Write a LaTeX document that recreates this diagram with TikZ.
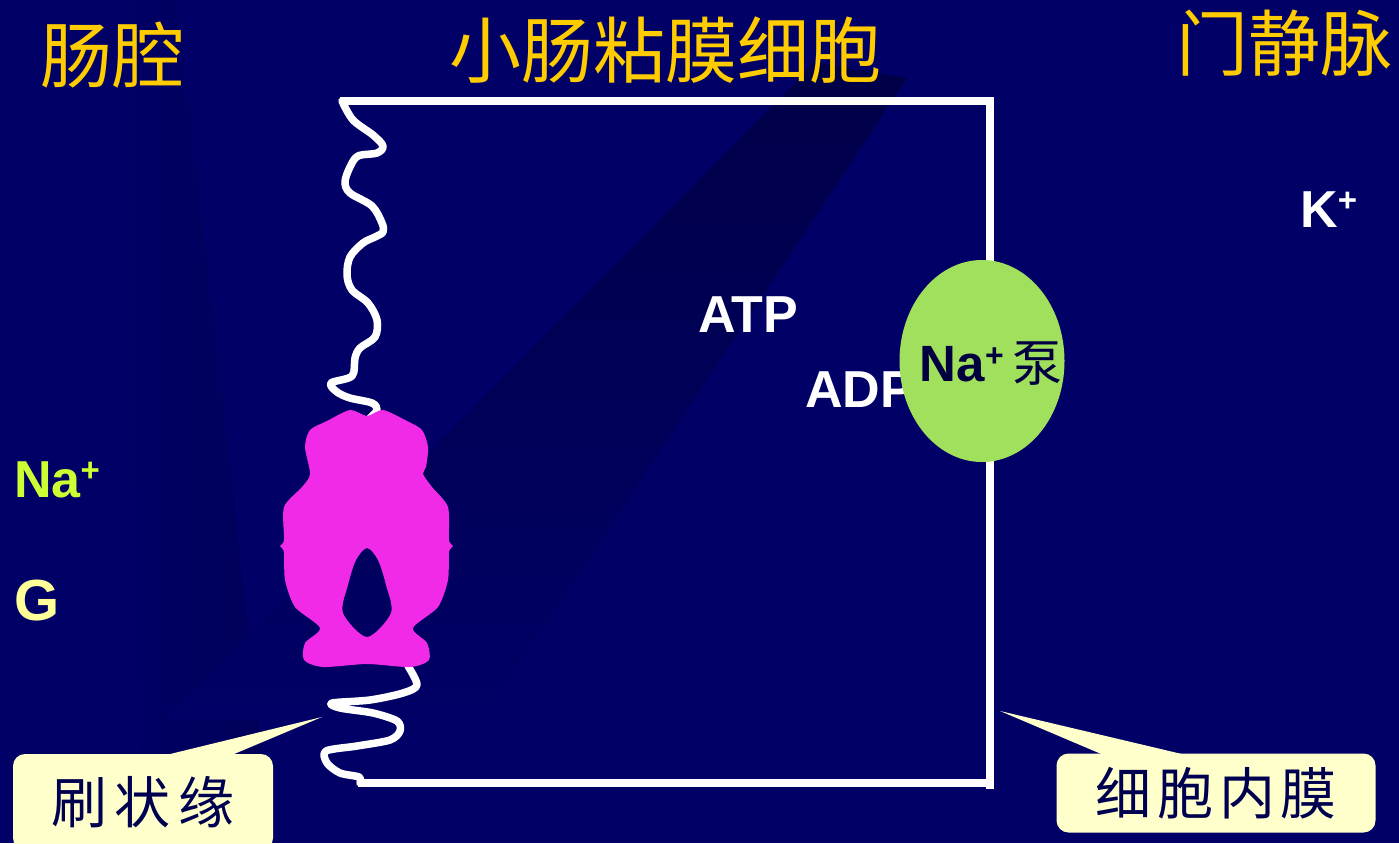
\documentclass[tikz,border=0pt]{standalone}
\usepackage{fontspec}
\setmainfont{Liberation Sans}
\newfontfamily\cjk{Noto Sans CJK SC}
\usetikzlibrary{shapes.geometric,calc}

\definecolor{bgnavy}{RGB}{0,0,102}
\definecolor{beamdark}{RGB}{0,0,72}
\definecolor{titleyellow}{RGB}{255,204,0}
\definecolor{proteinpink}{RGB}{240,42,230}
\definecolor{pumpgreen}{RGB}{160,224,92}
\definecolor{pumptext}{RGB}{0,0,64}
\definecolor{calloutfill}{RGB}{255,255,204}
\definecolor{callouttext}{RGB}{0,0,80}
\definecolor{sodium}{RGB}{204,255,51}
\definecolor{glucose}{RGB}{255,255,153}

% raised charge sign for ion labels
\newcommand{\chargeplus}{\raisebox{16pt}{\fontsize{33}{33}\selectfont\bfseries +}}

\begin{document}
\begin{tikzpicture}[x=1pt,y=-1pt,
  heading/.style={text=titleyellow, font=\cjk\fontsize{72}{80}\selectfont, inner sep=0},
  ionlabel/.style={font=\bfseries\fontsize{52}{60}\selectfont, inner sep=0, anchor=base west},
  membrane/.style={draw=white, line width=7.5pt, line join=round, line cap=round},
  cellwall/.style={draw=white, line width=7.5pt, line join=miter, line cap=butt},
  notebox/.style={fill=calloutfill, rounded corners=12pt, inner sep=0,
    text=callouttext, font=\cjk\fontsize{56}{60}\selectfont}]

% page and background
\useasboundingbox (0,0) rectangle (1399,843);
\clip (0,0) rectangle (1399,843);
\fill[bgnavy] (0,0) rectangle (1399,843);

% faint light beams
\shade[left color=bgnavy, right color=beamdark!40!bgnavy]
  (115,0) -- (177,0) -- (262,755) -- (140,755) -- cycle;
\shade[top color=beamdark, middle color=beamdark!30!bgnavy, bottom color=bgnavy]
  (789,89) -- (814,62) -- (907,78) -- (482,720) -- (164,720) -- cycle;

% headings
\node[heading] (lumen) at (112,55) {肠腔};
\node[heading] (cell)  at (665,50) {小肠粘膜细胞};
\node[heading] (vein)  at (1284,43) {门静脉};

% cell membrane: apical brush border (wavy) and basolateral sides
\draw[membrane] plot[smooth, tension=0.55] coordinates {
  (342,101) (353,120) (373,135) (383,146) (377,153) (358,156) (350,167)
  (345,182) (350,193) (372,206) (382,223) (383,232) (375,237) (363,243)
  (350,257) (347,275) (352,290) (368,303) (377,320) (375,337) (360,348)
  (355,358) (352,376) (331,383) (337,392) (350,398) (372,403) (377,410)
  (370,418)};
\draw[cellwall] (340,101) -- (990,101) -- (990,789);
\draw[cellwall] (990,783) -- (358,783);
\draw[membrane] plot[smooth, tension=0.5] coordinates {
  (408,666) (417,685) (403,693) (370,700) (332,703) (340,708) (373,713)
  (397,721) (400,731) (390,740) (357,746) (326,751) (327,763) (340,773)
  (359,777) (360,783)};

% carrier protein in the brush border
\fill[proteinpink, even odd rule]
  plot[smooth cycle, tension=0.45] coordinates {
    (367,416) (383,410) (407,421) (422,430) (428,447) (426,467) (423,474)
    (432,487) (448,507) (449,540) (453,546) (449,552) (448,580) (438,607)
    (413,628) (427,643) (429,660) (410,667) (367,664) (323,667) (304,660)
    (305,643) (320,628) (295,607) (285,580) (284,552) (280,546) (284,540)
    (284,507) (302,487) (310,474) (305,447) (310,430) (327,421) (350,410)}
  plot[smooth cycle, tension=0.5] coordinates {
    (367,548) (378,560) (386,585) (391,613) (367,637) (343,613) (348,585)
    (356,560)};

% energy labels
\node[ionlabel, text=white] (atp) at (698,332) {ATP};
\node[ionlabel, text=white] (adp) at (805,407) {ADP};

% sodium pump
\node[ellipse, fill=pumpgreen, minimum width=165pt, minimum height=202pt,
  inner sep=0] (pump) at (982,361) {};
\node[text=pumptext, inner sep=0, font=\bfseries\fontsize{51}{56}\selectfont]
  (pumplabel) at (991,364)
  {Na\raisebox{15pt}{\fontsize{32}{32}\selectfont\bfseries +}\,{\cjk\mdseries\fontsize{50}{56}\selectfont 泵}};

% ions
\node[ionlabel, text=white] (potassium) at (1300,227) {K\chargeplus};
\node[ionlabel, text=sodium] (na) at (14,497) {Na\chargeplus};
\node[ionlabel, text=glucose, font=\bfseries\fontsize{58}{64}\selectfont]
  (g) at (14,620) {G};

% callouts
\node[notebox, minimum width=260pt, minimum height=96pt] (brushbox)
  at (143,802) {刷\hspace{8pt}状\hspace{8pt}缘};
\coordinate (brushtip) at (322,717);
\fill[calloutfill] (brushtip) -- ($(brushbox.north west)+(150,2)$)
  -- ($(brushbox.north west)+(217,2)$) -- cycle;

\node[notebox, minimum width=319pt, minimum height=79pt] (membox)
  at (1216,793) {细\hspace{6pt}胞\hspace{6pt}内\hspace{6pt}膜};
\coordinate (memtip) at (1000,711);
\fill[calloutfill] (memtip) -- ($(membox.north west)+(48,2)$)
  -- ($(membox.north west)+(131,2)$) -- cycle;
\end{tikzpicture}
\end{document}
